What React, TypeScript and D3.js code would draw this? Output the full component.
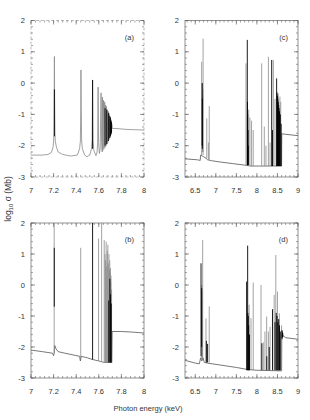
import React from "react";
import * as d3 from "d3";

// tick values
const xTicksAB = [7, 7.2, 7.4, 7.6, 7.8, 8];
const xTicksCD = [6.5, 7, 7.5, 8, 8.5, 9];
const yTicks = [-3, -2, -1, 0, 1, 2];

// panel (a): continuum with broadened resonances [E, log sigma]
const aCurve = [
  [7.0, -2.3], [7.1, -2.3], [7.15, -2.28], [7.18, -2.22], [7.195, -2.05], [7.2, -1.85],
  [7.203, -1.55], [7.205, -0.5], [7.207, 0.85], [7.209, -0.5], [7.212, -1.55], [7.215, -1.85],
  [7.225, -2.05], [7.24, -2.2], [7.28, -2.28], [7.35, -2.33], [7.41, -2.3], [7.43, -2.1],
  [7.437, -1.85], [7.44, -0.8], [7.442, 0.42], [7.445, -0.8], [7.448, -1.85], [7.455, -2.1],
  [7.475, -2.3], [7.495, -2.35], [7.52, -2.3], [7.535, -2.1], [7.541, -1.8], [7.545, 0.1],
  [7.549, -1.8], [7.556, -2.15], [7.575, -2.32], [7.585, -2.2], [7.59, -1.9], [7.594, -0.13],
  [7.598, -1.9], [7.605, -2.25], [7.612, -2.1], [7.62, -0.31], [7.625, -1.9], [7.63, -2.2],
  [7.632, -0.45], [7.636, -2.15], [7.642, -0.55], [7.646, -2.1], [7.652, -0.6], [7.656, -2.05],
  [7.66, -0.7], [7.664, -2.0], [7.668, -0.75], [7.672, -1.95], [7.675, -0.85], [7.679, -1.9],
  [7.682, -0.9], [7.685, -1.85], [7.688, -0.95], [7.691, -1.8], [7.694, -1.0], [7.697, -1.75],
  [7.7, -1.1], [7.703, -1.7], [7.705, -1.15], [7.708, -1.6], [7.71, -1.2], [7.713, -1.55],
  [7.715, -1.3], [7.72, -1.45], [7.75, -1.45], [7.85, -1.48], [8.0, -1.5],
];
// black resonances drawn over (a): [E, top, bottom]
const aBlack = [
  [7.207, -0.2, -1.7], [7.545, 0.1, -2.1], [7.655, -0.8, -2.0], [7.67, -0.85, -1.95],
  [7.685, -0.95, -1.85], [7.697, -1.05, -1.75], [7.703, -1.1, -1.7], [7.708, -1.2, -1.65],
  [7.712, -1.25, -1.6],
];

// panel (b)
const bCurve = [
  [7.0, -2.1], [7.1, -2.15], [7.19, -2.2], [7.2, -2.28], [7.205, -2.2], [7.21, -1.95],
  [7.22, -2.05], [7.24, -2.15], [7.3, -2.2], [7.43, -2.3], [7.437, -2.45], [7.443, -2.3],
  [7.5, -2.35], [7.54, -2.4], [7.6, -2.45], [7.65, -2.5], [7.715, -2.5], [7.718, -1.5],
  [7.8, -1.5], [7.9, -1.52], [8.0, -1.55],
];
const bGray = [
  [7.205, 2.0, -2.2], [7.44, 1.2, -2.4], [7.598, 1.5, -2.45], [7.625, 2.0, -2.45],
  [7.648, 1.45, -2.5], [7.655, 1.0, -2.5], [7.66, 0.8, -2.5], [7.665, 1.4, -2.5],
  [7.67, 0.6, -2.5], [7.675, 1.1, -2.5], [7.68, 1.3, -2.5], [7.684, 0.7, -2.5],
  [7.69, 1.0, -2.5], [7.694, 0.5, -2.5], [7.697, 0.8, -2.5], [7.7, 0.4, -2.5],
  [7.703, 0.55, -2.5], [7.706, 0.1, -2.5], [7.708, 0.3, -2.5], [7.713, -0.15, -2.5],
];
const bBlack = [
  [7.206, 1.2, -0.7], [7.545, 2.0, -2.4], [7.688, -0.5, -2.5], [7.698, 0.2, -2.5],
  [7.704, -0.3, -2.5], [7.71, -0.6, -2.5],
];

// panel (c)
const cCurve = [
  [6.25, -2.42], [6.55, -2.45], [6.62, -2.47], [6.63, -2.3], [6.7, -2.35], [6.76, -2.4],
  [6.8, -2.45], [6.9, -2.48], [7.1, -2.52], [7.4, -2.57], [7.7, -2.62], [7.85, -2.65],
  [8.05, -2.65], [8.6, -2.65], [8.605, -1.62], [8.8, -1.65], [9.0, -1.68],
];
const cGray = [
  [6.655, 0.68, -2.3], [6.69, 1.42, -2.3], [6.675, 0.0, -2.2], [6.68, -0.4, -2.2],
  [6.685, -0.2, -2.2], [6.78, -1.13, -2.4], [6.84, -0.73, -2.45], [6.82, -1.9, -2.45],
  [7.734, 0.63, -2.62], [7.8, -0.85, -2.62], [7.83, -1.1, -2.65], [7.87, -1.2, -2.65],
  [7.91, -1.5, -2.65], [8.116, 0.63, -2.65], [8.18, -1.39, -2.65], [8.22, -2.0, -2.65],
  [8.28, 0.84, -2.65], [8.32, -1.9, -2.65], [8.4, 0.74, -2.65], [8.44, -0.5, -2.65],
  [8.52, -0.33, -2.65], [8.56, -0.43, -2.65], [8.58, -0.6, -2.65],
];
const cBlack = [
  [6.668, 0.0, -2.0], [6.672, -0.5, -2.1], [7.766, 1.38, -2.62], [7.77, -0.6, -2.62],
  [7.775, -1.0, -2.62], [7.785, -1.5, -2.62], [7.79, -2.0, -2.62], [8.36, 0.74, -2.65],
  [8.38, -1.5, -2.65], [8.48, 0.15, -2.65], [8.49, -0.3, -2.65], [8.5, -0.4, -2.65],
  [8.51, -0.5, -2.65], [8.52, -0.6, -2.65], [8.53, -0.7, -2.65], [8.54, -0.8, -2.65],
  [8.55, -0.9, -2.65], [8.57, -1.0, -2.65], [8.59, -1.3, -2.65],
];

// panel (d)
const dCurve = [
  [6.25, -2.43], [6.5, -2.52], [6.6, -2.54], [6.63, -2.35], [6.66, -2.45], [6.69, -2.35],
  [6.72, -2.5], [6.8, -2.52], [7.2, -2.6], [7.5, -2.66], [7.75, -2.72], [8.0, -2.75],
  [8.6, -2.77], [8.605, -1.6], [8.7, -1.7], [9.0, -1.75],
];
const dGray = [
  [6.68, 1.45, -2.35], [6.66, 0.0, -2.4], [6.665, -0.5, -2.4], [6.672, -0.2, -2.4],
  [6.76, -1.08, -2.5], [6.84, -0.69, -2.5], [7.81, -0.64, -2.75], [7.856, -1.07, -2.75],
  [7.91, 0.08, -2.75], [8.1, 0.0, -2.75], [8.155, -1.85, -2.75], [8.196, -1.5, -2.75],
  [8.237, -1.02, -2.75], [8.28, -1.5, -2.75], [8.32, -1.35, -2.75], [8.42, -0.32, -2.75],
  [8.46, 0.97, -2.75], [8.5, -0.21, -2.75], [8.545, -0.91, -2.75], [8.6, -1.3, -2.75],
];
const dBlack = [
  [6.64, 0.7, -2.3], [6.655, -0.1, -2.0], [6.77, -1.8, -2.5], [6.8, -1.9, -2.5],
  [7.75, 0.11, -2.75], [7.775, 1.27, -2.75], [7.78, -0.9, -2.75], [7.79, -1.0, -2.75],
  [7.8, -1.3, -2.75], [7.82, -1.6, -2.75], [8.12, -1.88, -2.75], [8.24, -2.3, -2.75],
  [8.3, -2.0, -2.75], [8.38, -0.78, -2.75], [8.44, -1.2, -2.75], [8.47, -0.9, -2.75],
  [8.49, -1.0, -2.75], [8.51, -1.2, -2.75], [8.53, -1.1, -2.75], [8.55, -1.3, -2.75],
  [8.57, -1.5, -2.75], [8.61, -1.45, -1.75], [8.62, -1.5, -1.7], [8.63, -1.55, -1.68],
];

const font = "Liberation Sans, Arial, sans-serif";

function Panel(props: any) {
  const { left, right, top, bottom, xDomain, xTicks, xMinor, label, curve, curveColor, gray, black, dashedFrame } = props;
  const x = d3.scaleLinear().domain(xDomain).range([left, right]);
  const y = d3.scaleLinear().domain([-3, 2]).range([bottom, top]);
  const line = d3.line<number[]>().x((d) => x(d[0])).y((d) => y(d[1]));
  const minorX = d3.range(Math.ceil(xDomain[0] / xMinor) * xMinor, xDomain[1] + 1e-9, xMinor);
  const minorY = d3.range(-3, 2.001, 0.2);
  const tickColor = "#666";
  const spike = (s: number[], i: number, color: string, w: number) => (
    <line key={color + i} x1={x(s[0])} x2={x(s[0])} y1={y(s[2])} y2={y(Math.min(s[1], 2))}
      stroke={color} strokeWidth={w} />
  );
  return (
    <g>
      <rect x={left} y={top} width={right - left} height={bottom - top} fill="none"
        stroke={dashedFrame ? "#aaa" : "#777"} strokeWidth={0.8}
        strokeDasharray={dashedFrame ? "3,2" : undefined} />
      {minorX.map((v, i) => (
        <g key={"mx" + i} stroke={tickColor} strokeWidth={0.6}>
          <line x1={x(v)} x2={x(v)} y1={bottom} y2={bottom - 2} />
          <line x1={x(v)} x2={x(v)} y1={top} y2={top + 2} />
        </g>
      ))}
      {xTicks.map((v: number) => (
        <g key={"x" + v} stroke={tickColor} strokeWidth={0.7}>
          <line x1={x(v)} x2={x(v)} y1={bottom} y2={bottom - 4} />
          <line x1={x(v)} x2={x(v)} y1={top} y2={top + 4} />
        </g>
      ))}
      {minorY.map((v, i) => (
        <g key={"my" + i} stroke={tickColor} strokeWidth={0.6}>
          <line x1={left} x2={left + 2} y1={y(v)} y2={y(v)} />
          <line x1={right} x2={right - 2} y1={y(v)} y2={y(v)} />
        </g>
      ))}
      {yTicks.map((v) => (
        <g key={"y" + v} stroke={tickColor} strokeWidth={0.7}>
          <line x1={left} x2={left + 4} y1={y(v)} y2={y(v)} />
          <line x1={right} x2={right - 4} y1={y(v)} y2={y(v)} />
        </g>
      ))}
      {xTicks.map((v: number) => (
        <text key={"xt" + v} x={x(v)} y={bottom + 16} textAnchor="middle" fontSize={7.5}
          fontFamily={font} fill="#333">{String(v)}</text>
      ))}
      {yTicks.map((v) => (
        <text key={"yt" + v} x={left - 6} y={y(v) + 2.5} textAnchor="end" fontSize={7.5}
          fontFamily={font} fill="#333">{String(v)}</text>
      ))}
      <path d={line(curve) || ""} fill="none" stroke={curveColor} strokeWidth={0.8} />
      {gray.map((s: number[], i: number) => spike(s, i, "#8a8a8a", 0.8))}
      {black.map((s: number[], i: number) => spike(s, i, "#000", 0.9))}
      <text x={right - 10} y={top + 19} textAnchor="end" fontSize={7.5} fontFamily={font}
        fill="#333">{label}</text>
    </g>
  );
}

export default function App() {
  const ab = { left: 31, right: 144, xDomain: [7, 8], xTicks: xTicksAB, xMinor: 0.04 };
  const cd = { left: 185, right: 298, xDomain: [6.25, 9], xTicks: xTicksCD, xMinor: 0.1 };
  return (
    <svg width={310} height={420} style={{ position: "absolute", left: 0, top: 0, background: "#fff" }}>
      <Panel {...ab} top={20.5} bottom={177} label="(a)" curve={aCurve} curveColor="#8a8a8a"
        gray={[]} black={aBlack} dashedFrame />
      <Panel {...cd} top={20.5} bottom={177} label="(c)" curve={cCurve} curveColor="#555"
        gray={cGray} black={cBlack} />
      <Panel {...ab} top={223} bottom={378} label="(b)" curve={bCurve} curveColor="#555"
        gray={bGray} black={bBlack} />
      <Panel {...cd} top={223} bottom={378} label="(d)" curve={dCurve} curveColor="#555"
        gray={dGray} black={dBlack} />
      <text transform="translate(11,199) rotate(-90)" textAnchor="middle" fontSize={8.5}
        fontFamily={font} fill="#333">
        log<tspan fontSize={6} dy={2}>10</tspan><tspan dy={-2}> σ (Mb)</tspan>
      </text>
      <text x={148} y={411} textAnchor="middle" fontSize={7.5} fontFamily={font} fill="#333">
        Photon energy (keV)
      </text>
    </svg>
  );
}
